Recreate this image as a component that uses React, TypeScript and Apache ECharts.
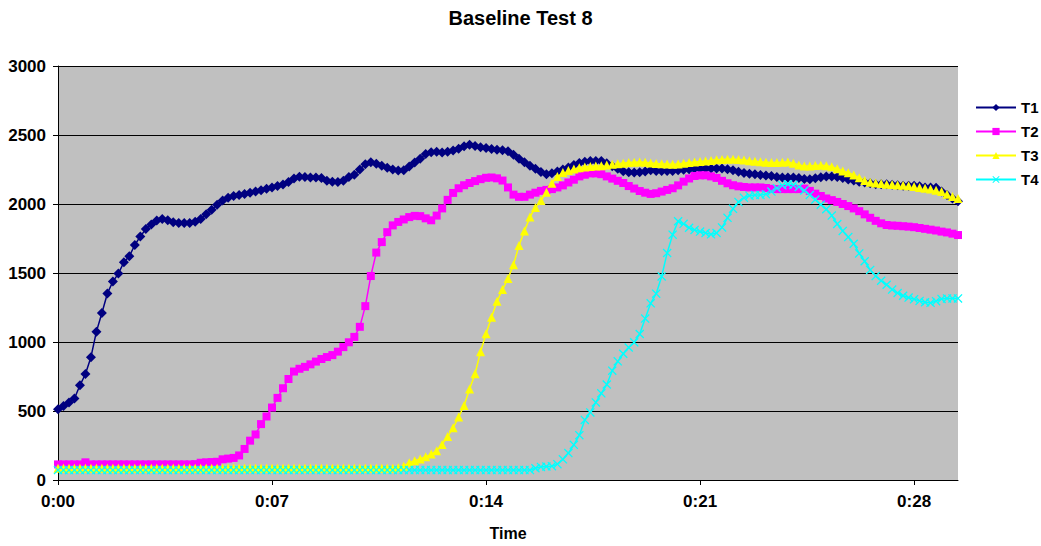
import React, { useEffect, useRef } from "react";
import * as echarts from "echarts";

const TITLE = "Baseline Test 8";
const SERIES_NAMES = ["T1", "T2", "T3", "T4"];
const TICK_LABELS = ["0:00", "0:07", "0:14", "0:21", "0:28"];
const SAMPLES_PER_TICK = 39;

const T1 = [
  513, 537, 561, 590, 686, 768, 890, 1075, 1210, 1352,
  1438, 1496, 1578, 1622, 1703, 1765, 1818, 1852, 1880, 1892,
  1882, 1868, 1863, 1863, 1863, 1872, 1892, 1925, 1958, 1995,
  2026, 2046, 2058, 2066, 2073, 2081, 2091, 2100, 2110, 2119,
  2130, 2142, 2160, 2185, 2198, 2196, 2192, 2192, 2188, 2168,
  2162, 2160, 2168, 2196, 2212, 2250, 2288, 2302, 2292, 2278,
  2262, 2250, 2243, 2245, 2272, 2300, 2328, 2362, 2375, 2379,
  2374, 2378, 2388, 2400, 2418, 2430, 2420, 2412, 2405, 2398,
  2394, 2390, 2382, 2356, 2328, 2302, 2278, 2255, 2232, 2216,
  2222, 2236, 2250, 2265, 2282, 2298, 2306, 2311, 2312, 2312,
  2295, 2274, 2256, 2238, 2230, 2228, 2230, 2236, 2245, 2240,
  2240, 2240, 2240, 2244, 2248, 2252, 2255, 2256, 2257, 2257,
  2257, 2257, 2252, 2245, 2234, 2225, 2220, 2216, 2211, 2206,
  2202, 2196, 2192, 2192, 2192, 2188, 2181, 2180, 2186, 2193,
  2199, 2199, 2196, 2188, 2178, 2170, 2162, 2156, 2150, 2144,
  2144, 2143, 2139, 2136, 2133, 2132, 2132, 2128, 2120, 2120,
  2118, 2090, 2065, 2040, 2020,
];

const T2 = [
  113, 113, 113, 113, 113, 128, 113, 113, 113, 113,
  113, 113, 113, 113, 113, 113, 113, 113, 113, 113,
  113, 113, 113, 113, 113, 115, 125, 128, 130, 132,
  150, 155, 160, 178, 225, 285, 330, 405, 460, 525,
  595, 665, 732, 786, 806, 820, 838, 858, 877, 891,
  905, 930, 963, 998, 1037, 1110, 1260, 1478, 1648, 1724,
  1796, 1845, 1870, 1888, 1905, 1914, 1912, 1896, 1882, 1916,
  1968, 2030, 2080, 2114, 2136, 2152, 2166, 2180, 2190, 2192,
  2186, 2170, 2120, 2068, 2052, 2052, 2068, 2082, 2095, 2102,
  2108, 2120, 2135, 2156, 2176, 2200, 2212, 2222, 2222, 2216,
  2200, 2184, 2168, 2152, 2130, 2112, 2094, 2082, 2073, 2078,
  2090, 2102, 2114, 2135, 2162, 2185, 2203, 2208, 2208, 2200,
  2189, 2168, 2150, 2136, 2128, 2123, 2120, 2120, 2120, 2116,
  2110, 2108, 2108, 2108, 2108, 2108, 2112, 2095, 2075, 2058,
  2040, 2028, 2015, 2000, 1985, 1968, 1948, 1925, 1900, 1878,
  1860, 1848, 1844, 1842, 1839, 1836, 1832, 1826, 1820, 1814,
  1808, 1800, 1794, 1785, 1775,
];

const T3 = [
  85, 85, 85, 85, 85, 85, 85, 85, 85, 85,
  85, 85, 85, 85, 85, 85, 85, 85, 85, 85,
  85, 85, 85, 85, 85, 85, 85, 85, 85, 85,
  85, 85, 85, 85, 85, 85, 85, 85, 85, 85,
  85, 85, 85, 85, 85, 85, 85, 85, 85, 85,
  85, 85, 85, 85, 85, 85, 85, 85, 85, 85,
  85, 85, 88, 100, 125, 140, 153, 168, 188, 212,
  258, 315, 378, 456, 540, 660, 770, 930, 1060, 1180,
  1295, 1380, 1460, 1560, 1700, 1805, 1905, 1975, 2025, 2085,
  2150, 2200, 2228, 2243, 2253, 2262, 2268, 2272, 2275, 2278,
  2283, 2288, 2292, 2296, 2300, 2302, 2304, 2302, 2298, 2294,
  2291, 2289, 2288, 2290, 2295, 2300, 2304, 2308, 2312, 2316,
  2320, 2322, 2324, 2324, 2322, 2318, 2314, 2310, 2306, 2303,
  2300, 2300, 2302, 2304, 2295, 2282, 2276, 2276, 2279, 2281,
  2278, 2270, 2255, 2240, 2226, 2210, 2190, 2170, 2158, 2152,
  2148, 2144, 2141, 2138, 2135, 2132, 2126, 2120, 2114, 2108,
  2100, 2090, 2070, 2055, 2040,
];

const T4 = [
  72, 72, 72, 72, 72, 72, 72, 72, 72, 72,
  72, 72, 72, 72, 72, 72, 72, 72, 72, 72,
  72, 72, 72, 72, 72, 72, 72, 72, 72, 72,
  72, 72, 72, 72, 72, 72, 72, 72, 72, 72,
  72, 72, 72, 72, 72, 72, 72, 72, 72, 72,
  72, 72, 72, 72, 72, 72, 72, 72, 72, 72,
  72, 72, 72, 72, 72, 72, 72, 72, 72, 72,
  72, 72, 72, 72, 72, 72, 72, 72, 72, 72,
  72, 72, 72, 72, 72, 72, 72, 85, 95, 98,
  100, 115, 150, 195, 255, 325, 435, 490, 562, 628,
  692, 792, 860, 915, 960, 998, 1058, 1170, 1280, 1350,
  1475, 1645, 1778, 1875, 1856, 1828, 1812, 1800, 1790, 1780,
  1790, 1830, 1900, 1965, 2015, 2045, 2060, 2065, 2066, 2071,
  2090, 2115, 2135, 2143, 2138, 2124, 2098, 2066, 2032, 1995,
  1962, 1916, 1855, 1805, 1760, 1712, 1642, 1585, 1522, 1478,
  1444, 1415, 1380, 1355, 1335, 1322, 1310, 1298, 1288, 1284,
  1296, 1312, 1316, 1316, 1316,
];

const COLORS = ["#000080", "#FF00FF", "#FFFF00", "#00FFFF"];
const SYMBOLS = [
  "diamond",
  "rect",
  "triangle",
  "path://M0,1L1,0L5,4L9,0L10,1L6,5L10,9L9,10L5,6L1,10L0,9L4,5Z",
];
const SYMBOL_SIZES = [10, 8, 9, 9];

const FONT = "'Liberation Sans', Arial, sans-serif";

export default function App() {
  const ref = useRef<HTMLDivElement>(null);

  useEffect(() => {
    if (!ref.current) return;
    const chart = echarts.init(ref.current, null, { renderer: "svg" });
    const allSeries = [T1, T2, T3, T4];
    const categories = T1.map((_, i) => String(i));

    chart.setOption({
      animation: false,
      backgroundColor: "#ffffff",
      textStyle: { fontFamily: FONT },
      title: {
        text: TITLE,
        left: "center",
        top: 3,
        textStyle: { fontFamily: FONT, fontSize: 20, fontWeight: "bold", color: "#000" },
      },
      grid: {
        left: 58,
        top: 66,
        right: 83,
        bottom: 63,
        show: true,
        backgroundColor: "#C0C0C0",
        borderWidth: 0,
      },
      legend: {
        orient: "vertical",
        left: 975,
        top: 100,
        padding: 0,
        itemWidth: 40,
        itemHeight: 9,
        itemGap: 9,
        data: SERIES_NAMES,
        textStyle: { fontFamily: FONT, fontSize: 15, fontWeight: "bold", color: "#000" },
      },
      xAxis: {
        type: "category",
        data: categories,
        boundaryGap: false,
        name: "Time",
        nameLocation: "middle",
        nameGap: 45,
        nameTextStyle: { fontFamily: FONT, fontSize: 16, fontWeight: "bold", color: "#000" },
        axisLine: { lineStyle: { color: "#000", width: 1 } },
        axisTick: {
          interval: SAMPLES_PER_TICK - 1,
          length: 5,
          lineStyle: { color: "#000" },
        },
        axisLabel: {
          interval: SAMPLES_PER_TICK - 1,
          margin: 13,
          fontFamily: FONT,
          fontSize: 17,
          fontWeight: "bold",
          color: "#000",
          formatter: (_v: string, idx: number) => TICK_LABELS[Math.round(idx / SAMPLES_PER_TICK)] ?? "",
        },
        splitLine: { show: false },
      },
      yAxis: {
        type: "value",
        min: 0,
        max: 3000,
        interval: 500,
        axisLine: { show: true, lineStyle: { color: "#000", width: 1 } },
        axisTick: { show: true, length: 5, lineStyle: { color: "#000" } },
        axisLabel: {
          margin: 12,
          fontFamily: FONT,
          fontSize: 17,
          fontWeight: "bold",
          color: "#000",
          formatter: (v: number) => String(v),
        },
        splitLine: { show: true, lineStyle: { color: "#000", width: 1 } },
      },
      series: allSeries.map((data, k) => ({
        name: SERIES_NAMES[k],
        type: "line",
        data,
        showAllSymbol: true,
        symbol: SYMBOLS[k],
        symbolSize: SYMBOL_SIZES[k],
        lineStyle: { color: COLORS[k], width: 1.5 },
        itemStyle: { color: COLORS[k], borderWidth: 0 },
        emphasis: { disabled: true },
      })),
    });

    return () => chart.dispose();
  }, []);

  return (
    <div
      ref={ref}
      style={{ position: "fixed", left: 0, top: 0, width: 1041, height: 546 }}
    />
  );
}
